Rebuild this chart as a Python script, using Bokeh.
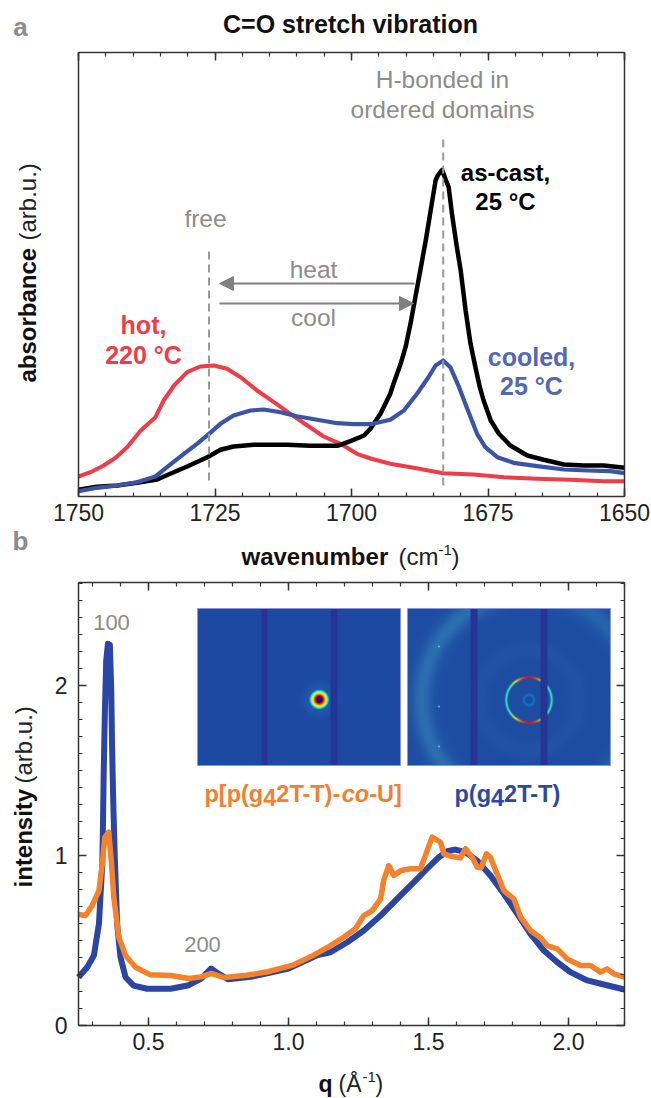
import numpy as np
from bokeh.plotting import figure
from bokeh.layouts import column
from bokeh.models import Label, Arrow, NormalHead, FixedTicker, LinearAxis, Range1d
from bokeh.embed import file_html
from bokeh.resources import INLINE

# ---- panel a data (wavenumber, absorbance arb.u.)
black_wn = [1750,1746.6,1742.9,1739.3,1735.6,1733.2,1730.1,1726.4,1724,1721.6,1717.9,1711.8,1707.5,1702.6,1700.2,1697.7,1696.5,1694.7,1692.9,1692.3,1691,1690.1,1689.2,1688.3,1687.4,1686.4,1685.5,1684.6,1684.2,1683.4,1682.7,1682.2,1681.6,1680.8,1680,1679.1,1678.2,1677.3,1676.5,1675.8,1674.5,1673,1670.9,1667.8,1664.8,1661.1,1657.5,1653.8,1650]
black_a = [6.7,9.7,11,13.7,17,22.7,30,39.3,46.7,50,51.7,51.7,50.7,50.7,55.3,61,68,82.7,102.7,112.7,132.7,149.3,172.7,199.3,226,256,286,316,321,326.7,316,309.3,282.7,252.7,226,186,152.7,129.3,109.3,96,76,62.7,51,41,36.7,32,31,31,28.7]
red_wn = [1750,1747.8,1745.4,1743.2,1741.1,1738.6,1735.9,1734.4,1732.5,1730.1,1727.7,1725.2,1722.8,1720.3,1717.3,1714.2,1711.2,1708.1,1705.1,1702,1699,1696.5,1692.9,1688.6,1683.2,1677.6,1672.1,1666,1659.9,1653.8,1650]
red_a = [20,24.3,31,38.7,49.3,66,79.3,96,111,124.3,130,131,127.7,119.3,106,94.3,82.7,71,60,52.7,42.7,38,32.7,28.7,23.3,22,19.3,17.7,16.7,15.3,15.3]
blue_wn = [1750,1746.6,1742.9,1739.3,1735.9,1733.8,1730.7,1728.3,1726.1,1724,1721.6,1718.5,1716.1,1713,1710,1706.3,1702.6,1699.6,1696.5,1692.9,1690.4,1688,1686.1,1684.6,1683.2,1681.9,1680.3,1678.8,1677,1675.5,1673.3,1670.3,1666,1661.1,1656.8,1652.6,1650]
blue_a = [5.3,8.7,11,14.3,20,29.3,42.7,52.7,62.7,72.7,81,86,87,84.3,80.3,76.7,73.3,72.3,72.3,76.7,86,102.7,117.7,131,136,129.3,109.3,87.7,62.7,49.3,39.3,33.7,30.3,27,26,25.3,23.3]
free_wn = 1726.1
bonded_wn = 1683.2

# ---- panel b data (q, intensity)
pg_q = [.25,.281,.305,.323,.335,.337,.34,.344,.349,.355,.362,.367,.37,.374,.38,.388,.40,.418,.447,.495,.579,.644,.688,.723,.748,.785,.866,1.0,1.104,1.15,1.21,1.269,1.329,1.388,1.448,1.495,1.537,1.567,1.596,1.632,1.674,1.721,1.769,1.817,1.864,1.912,1.96,2.007,2.067,2.126,2.2]
pg_i = [.284,.343,.412,.598,.952,1.147,1.48,1.83,2.147,2.245,2.24,1.97,1.637,1.32,.97,.598,.402,.284,.235,.216,.216,.237,.276,.335,.306,.272,.286,.335,.414,.431,.49,.559,.647,.745,.843,.922,.99,1.025,1.035,1.02,.97,.882,.775,.657,.539,.441,.372,.314,.265,.241,.212]
co_q = [.25,.275,.299,.323,.335,.344,.358,.367,.376,.394,.418,.454,.507,.579,.644,.688,.725,.77,.85,.926,1.015,1.09,1.15,1.197,1.239,1.269,1.299,1.329,1.34,1.358,1.376,1.402,1.436,1.471,1.489,1.513,1.543,1.555,1.585,1.614,1.632,1.656,1.674,1.688,1.707,1.721,1.745,1.769,1.805,1.829,1.864,1.9,1.924,1.96,1.995,2.043,2.079,2.114,2.138,2.162,2.2]
co_i = [.653,.647,.706,.794,.951,1.108,1.137,.971,.755,.52,.412,.343,.298,.294,.276,.286,.306,.282,.296,.316,.355,.414,.47,.519,.569,.647,.676,.745,.853,.941,.882,.912,.922,.922,1.0,1.108,1.078,1.01,.994,.986,1.04,.99,.931,.928,1.01,.99,.892,.794,.745,.637,.559,.516,.47,.451,.392,.353,.353,.314,.333,.304,.284]

FONT = "Liberation Sans"
GRAY = "#8c8c8c"
AXIS = "#333333"
L, R = 78, 624
W = 651

class Page:
    """Maps page pixels to the data of a panel whose frame fills its whole canvas."""
    def __init__(self, top, bottom, T, B, xr, yr):
        self.T, self.B, self.xr, self.yr = T, B, xr, yr
        self.p = figure(width=W, height=bottom - top,
                        x_range=Range1d(self.x(0), self.x(W)), y_range=Range1d(self.y(bottom), self.y(top)),
                        toolbar_location=None, output_backend="svg", x_axis_location=None, y_axis_location=None,
                        min_border=0)
        self.p.grid.visible = False
        self.p.outline_line_color = None
    def x(self, px):
        return self.xr[0] + (px - L) / (R - L) * (self.xr[1] - self.xr[0])
    def y(self, py):
        return self.yr[0] + (self.B - py) / (self.B - self.T) * (self.yr[1] - self.yr[0])
    def text(self, px, py, s, size, color="#222222", style="normal", align="center", angle=0):
        self.p.add_layout(Label(x=self.x(px), y=self.y(py), text=s, text_font=FONT, level="overlay",
                                text_font_size=f"{size}px", text_color=color, text_font_style=style,
                                text_align=align, text_baseline="middle", angle=angle, angle_units="rad"))
    def axis(self, side, ticks, minor, labels, standoff=7):
        lo_x, hi_x = sorted(self.xr)
        lo_y, hi_y = sorted(self.yr)
        horizontal = side in ("below", "above")
        where = {"below": self.yr[0], "above": self.yr[1], "left": self.xr[0], "right": self.xr[1]}[side]
        ax = LinearAxis(ticker=FixedTicker(ticks=ticks, minor_ticks=minor), fixed_location=where,
                        bounds=(lo_x, hi_x) if horizontal else (lo_y, hi_y))
        ax.axis_line_color = AXIS
        ax.axis_line_width = 1.5
        ax.major_tick_line_color = AXIS
        ax.minor_tick_line_color = AXIS
        ax.major_tick_line_width = 1.5
        ax.minor_tick_line_width = 1.2
        ax.major_tick_in = 8
        ax.major_tick_out = 0
        ax.minor_tick_in = 4
        ax.minor_tick_out = 0
        ax.major_label_text_font = FONT
        ax.major_label_text_color = "#222222"
        ax.major_label_text_font_size = "23px"
        ax.major_label_standoff = standoff
        ax.major_label_overrides = {t: labels[i] if labels else "" for i, t in enumerate(ticks)}
        ax.major_label_orientation = "horizontal"
        self.p.add_layout(ax, side)
        return ax

# ------------------ panel a
A = Page(0, 570, 52, 496, (1750, 1650), (0, 444))
a = A.p
ticks_major = [1750, 1725, 1700, 1675, 1650]
ticks_minor = list(range(1650, 1751, 5))
tick_text = ["1750", "1725", "1700", "1675", "1650"]
A.axis("below", ticks_major, ticks_minor, tick_text)
A.axis("above", ticks_major, ticks_minor, None)
A.axis("left", [], [], None)
A.axis("right", [], [], None)

a.line(red_wn, red_a, line_color="#ee3d48", line_width=4, line_join="round")
a.line(black_wn, black_a, line_color="#000000", line_width=4.5, line_join="round")
a.line(blue_wn, blue_a, line_color="#3b54a6", line_width=4.2, line_join="round")
a.line([free_wn, free_wn], [16, 248], line_color="#9a9a9a", line_width=2, line_dash="8 5")
a.line([bonded_wn, bonded_wn], [11, 360], line_color="#9a9a9a", line_width=2, line_dash="8 5")

arrow_gray = "#808080"
a.add_layout(Arrow(end=NormalHead(size=14, fill_color=arrow_gray, line_color=arrow_gray),
                   x_start=A.x(414), y_start=A.y(283), x_end=A.x(219), y_end=A.y(283),
                   line_color=arrow_gray, line_width=2))
a.add_layout(Arrow(end=NormalHead(size=14, fill_color=arrow_gray, line_color=arrow_gray),
                   x_start=A.x(219), y_start=A.y(303), x_end=A.x(413), y_end=A.y(303),
                   line_color=arrow_gray, line_width=2))

A.text(20, 26, "a", 26, GRAY, "bold")
A.text(350, 23, "C=O stretch vibration", 25, "#111111", "bold")
A.text(442, 79, "H-bonded in", 24.5, GRAY)
A.text(442, 109, "ordered domains", 24.5, GRAY)
A.text(205, 218, "free", 24.5, GRAY)
A.text(505, 172, "as-cast,", 24, "#000000", "bold")
A.text(505, 201, "25 °C", 24, "#000000", "bold")
A.text(313, 269, "heat", 24.5, GRAY)
A.text(313, 317, "cool", 24.5, GRAY)
A.text(143, 324, "hot,", 25, "#ee3d48", "bold")
A.text(143, 354, "220 °C", 25, "#ee3d48", "bold")
A.text(531, 356, "cooled,", 25, "#5268b5", "bold")
A.text(531, 385, "25 °C", 25, "#5268b5", "bold")
A.text(20, 540, "b", 26, GRAY, "bold")
A.text(241, 556, "wavenumber", 24, "#111111", "bold", align="left")
A.text(398, 556, "(cm", 24, "#222222", align="left")
A.text(438, 549, "-1", 15, "#222222", align="left")
A.text(451, 556, ")", 24, "#222222", align="left")
A.text(27, 382, "absorbance", 24, "#111111", "bold", align="left", angle=np.pi / 2)
A.text(27, 240, "(arb.u.)", 24, "#222222", align="left", angle=np.pi / 2)

# ------------------ panel b
B = Page(570, 1098, 582, 1025, (0.25, 2.2), (0, 2.606))
b = B.p
q_major = [0.5, 1.0, 1.5, 2.0]
q_minor = [round(0.3 + 0.1 * i, 1) for i in range(20)]
q_text = ["0.5", "1.0", "1.5", "2.0"]
i_major = [0, 1, 2]
i_minor = [round(0.1 * i, 1) for i in range(27)]
i_text = ["0", "1", "2"]
B.axis("below", q_major, q_minor, q_text)
B.axis("above", q_major, q_minor, None)
B.axis("left", i_major, i_minor, i_text, standoff=11)
B.axis("right", i_major, i_minor, None)

# inset detector pictures (decorative scattering images, not data series)
def jet(t):
    t = np.clip(t, 0, 1)
    r = np.clip(np.minimum(4 * t - 1.5, -4 * t + 4.5), 0, 1)
    g = np.clip(np.minimum(4 * t - 0.5, -4 * t + 3.5), 0, 1)
    bl = np.clip(np.minimum(4 * t + 0.5, -4 * t + 2.5), 0, 1)
    return np.stack([r, g, bl], axis=-1) * 255

BG = np.array([28, 74, 162.0])
BAND = np.array([48, 118, 180.0])
BAR = np.array([38, 52, 150.0])
SS = 2

def picture(px0, px1, py0, py1, cx, cy, bar_spans, fn):
    xs = np.arange(px0, px1, 1 / SS)
    ys = np.arange(py1, py0, -1 / SS)   # row 0 at the bottom
    X, Y = np.meshgrid(xs, ys)
    dx, dy = X - cx, Y - cy
    rr = np.hypot(dx, dy)
    th = np.arctan2(-dy, dx)
    haze, alpha, level = fn(rr, th, dx, dy)
    rgb = BG + haze[..., None] * (BAND - BG)
    rgb = rgb * (1 - alpha[..., None]) + jet(level) * alpha[..., None]
    for s0, s1 in bar_spans:
        rgb[(X >= s0) & (X <= s1)] = BAR
    img = np.empty(X.shape, dtype=np.uint32)
    v = img.view(dtype=np.uint8).reshape((*X.shape, 4))
    v[..., :3] = np.clip(rgb, 0, 255).astype(np.uint8)
    v[..., 3] = 255
    b.image_rgba(image=[img], x=B.x(px0), y=B.y(py1), dw=B.x(px1) - B.x(px0), dh=B.y(py0) - B.y(py1))
    b.quad(left=B.x(px0), right=B.x(px1), bottom=B.y(py1), top=B.y(py0),
           fill_color=None, line_color="#8b98d8", line_width=1)

def left_pic(rr, th, dx, dy):
    haze = 0.35 * np.exp(-((rr - 9) / 8.0) ** 2)
    alpha = np.clip((10.5 - rr) / 2.0, 0, 1)
    level = np.where(rr < 3.0, 0.02, 1.0 - (rr - 3.0) / 6.5 * 0.7)
    return haze, alpha, level

def right_pic(rr, th, dx, dy):
    haze = 0.75 * np.exp(-((rr - 107) / 10.0) ** 2) * np.where(dx < 0, 1.0, 0.7)
    haze = haze + 0.12 * np.exp(-((rr - 50) / 8.0) ** 2) + 0.08
    ring = np.exp(-((rr - 22.7) / 1.0) ** 2)
    inner = 0.5 * np.exp(-((rr - 5.2) / 0.9) ** 2)
    alpha = np.clip(ring + inner, 0, 1)
    level = np.where(rr > 12, 0.42 + 0.45 * np.abs(np.sin(th)) ** 4, 0.3)
    return haze, alpha, level

picture(197, 400, 608, 765, 318.3, 699.5, [(260.5, 266.5), (330, 336)], left_pic)
picture(407, 610, 608, 765, 528, 700, [(470, 476.5), (540, 546)], right_pic)
spot_q = [B.x(438.5), B.x(438.5), B.x(438.5)]
spot_i = [B.y(646), B.y(746), B.y(706)]
b.scatter(spot_q, spot_i, size=2, color="#6fc0d8", line_color=None)

b.line(pg_q, pg_i, line_color="#2b45a5", line_width=6, line_join="round")
b.line(co_q, co_i, line_color="#f5822a", line_width=5.5, line_join="round")

B.text(111, 622, "100", 22, GRAY)
B.text(202, 944, "200", 22, GRAY)
ORANGE, NAVY = "#f28030", "#2d4a9e"
F = 23.5
def word(x0, y0, pieces, color):
    for s, w, st, dy in pieces:
        B.text(x0, y0 + dy, s, F, color, st, align="left")
        x0 += w * F
word(204, 793, [("p[p(g", 2.5, "bold", 0), ("4", .556, "bold", 4), ("2T-T)-", 2.78, "bold", 0),
                ("co", 1.17, "bold italic", 0), ("-U]", 1.39, "bold", 0)], ORANGE)
word(454, 793, [("p(g", 1.555, "bold", 0), ("4", .556, "bold", 4), ("2T-T)", 2.444, "bold", 0)], NAVY)

B.text(23, 887, "intensity", 24, "#111111", "bold", align="left", angle=np.pi / 2)
B.text(23, 783, "(arb.u.)", 24, "#222222", align="left", angle=np.pi / 2)
B.text(318, 1083, "q", 23, "#111111", "bold", align="left")
B.text(338, 1083, "(Å", 23, "#222222", align="left")
B.text(362, 1076, "-1", 15, "#222222", align="left")
B.text(375, 1083, ")", 23, "#222222", align="left")

layout = column(a, b, spacing=0)
open("out.html", "w").write(file_html(layout, INLINE))
